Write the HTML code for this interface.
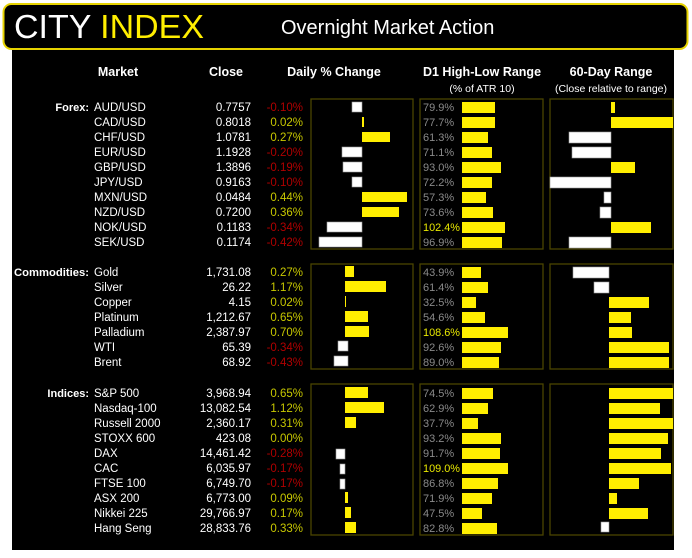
<!DOCTYPE html>
<html><head><meta charset="utf-8"><style>
html,body{margin:0;padding:0;background:#fff;width:692px;height:558px;overflow:hidden}
svg{display:block}
text{font-family:"Liberation Sans",sans-serif;font-size:11.5px;fill:#fff}
.r{text-anchor:end}
.lab{font-weight:bold;font-size:11px}
.hd{font-weight:bold;font-size:12.5px;text-anchor:middle}
.sub{font-size:10.5px;text-anchor:middle}
.g{fill:#c8c800}.n{fill:#b00000}.d{fill:#8a8a8a;font-size:11px}.y{fill:#e8e800;font-size:11px}
.box{fill:none;stroke:#4a4500;stroke-width:1.3}
.yb{fill:#ffee00}.wb{fill:#fff;stroke:#999;stroke-width:0.6}
</style></head><body>
<svg width="692" height="558" xmlns="http://www.w3.org/2000/svg">
<rect x="12" y="40" width="662" height="510" fill="#000"/>
<rect x="3.5" y="4" width="684" height="45" rx="8" fill="#000" stroke="#e6d300" stroke-width="2"/>
<text x="14" y="38" style="font-size:33px;fill:#fff" textLength="190" lengthAdjust="spacingAndGlyphs">CITY <tspan style="fill:#ffee00">INDEX</tspan></text>
<text x="281" y="34" style="font-size:20px">Overnight Market Action</text>
<text x="118" y="76" class="hd">Market</text>
<text x="226" y="76" class="hd">Close</text>
<text x="334" y="76" class="hd">Daily % Change</text>
<text x="482" y="76" class="hd">D1 High-Low Range</text>
<text x="611" y="76" class="hd">60-Day Range</text>
<text x="482" y="92" class="sub">(% of ATR 10)</text>
<text x="611" y="92" class="sub">(Close relative to range)</text>

<rect class="box" x="311" y="99" width="102" height="150"/>
<rect class="box" x="420" y="99" width="123" height="150"/>
<rect class="box" x="550" y="99" width="123" height="150"/>
<rect class="box" x="311" y="264" width="102" height="105"/>
<rect class="box" x="420" y="264" width="123" height="105"/>
<rect class="box" x="550" y="264" width="123" height="105"/>
<rect class="box" x="311" y="384" width="102" height="151"/>
<rect class="box" x="420" y="384" width="123" height="151"/>
<rect class="box" x="550" y="384" width="123" height="151"/>

<!-- Forex -->
<text x="89" y="111" class="r lab">Forex:</text>
<g>
<text x="94" y="111">AUD/USD</text><text x="251" y="111" class="r">0.7757</text><text x="303" y="111" class="r n">-0.10%</text>
<text x="94" y="126">CAD/USD</text><text x="251" y="126" class="r">0.8018</text><text x="303" y="126" class="r g">0.02%</text>
<text x="94" y="141">CHF/USD</text><text x="251" y="141" class="r">1.0781</text><text x="303" y="141" class="r g">0.27%</text>
<text x="94" y="156">EUR/USD</text><text x="251" y="156" class="r">1.1928</text><text x="303" y="156" class="r n">-0.20%</text>
<text x="94" y="171">GBP/USD</text><text x="251" y="171" class="r">1.3896</text><text x="303" y="171" class="r n">-0.19%</text>
<text x="94" y="186">JPY/USD</text><text x="251" y="186" class="r">0.9163</text><text x="303" y="186" class="r n">-0.10%</text>
<text x="94" y="201">MXN/USD</text><text x="251" y="201" class="r">0.0484</text><text x="303" y="201" class="r g">0.44%</text>
<text x="94" y="216">NZD/USD</text><text x="251" y="216" class="r">0.7200</text><text x="303" y="216" class="r g">0.36%</text>
<text x="94" y="231">NOK/USD</text><text x="251" y="231" class="r">0.1183</text><text x="303" y="231" class="r n">-0.34%</text>
<text x="94" y="246">SEK/USD</text><text x="251" y="246" class="r">0.1174</text><text x="303" y="246" class="r n">-0.42%</text>
</g>
<rect class="wb" x="352" y="102" width="10" height="10"/>
<rect class="yb" x="362" y="117" width="2" height="10"/>
<rect class="yb" x="362" y="132" width="28" height="10"/>
<rect class="wb" x="342" y="147" width="20" height="10"/>
<rect class="wb" x="343" y="162" width="19" height="10"/>
<rect class="wb" x="352" y="177" width="10" height="10"/>
<rect class="yb" x="362" y="192" width="45" height="10"/>
<rect class="yb" x="362" y="207" width="37" height="10"/>
<rect class="wb" x="327" y="222" width="35" height="10"/>
<rect class="wb" x="319" y="237" width="43" height="10"/>

<text x="423" y="111" class="d">79.9%</text><rect class="yb" x="462" y="102" width="33" height="11"/>
<text x="423" y="126" class="d">77.7%</text><rect class="yb" x="462" y="117" width="33" height="11"/>
<text x="423" y="141" class="d">61.3%</text><rect class="yb" x="462" y="132" width="26" height="11"/>
<text x="423" y="156" class="d">71.1%</text><rect class="yb" x="462" y="147" width="30" height="11"/>
<text x="423" y="171" class="d">93.0%</text><rect class="yb" x="462" y="162" width="39" height="11"/>
<text x="423" y="186" class="d">72.2%</text><rect class="yb" x="462" y="177" width="30" height="11"/>
<text x="423" y="201" class="d">57.3%</text><rect class="yb" x="462" y="192" width="24" height="11"/>
<text x="423" y="216" class="d">73.6%</text><rect class="yb" x="462" y="207" width="31" height="11"/>
<text x="423" y="231" class="y" textLength="37" lengthAdjust="spacingAndGlyphs">102.4%</text><rect class="yb" x="462" y="222" width="43" height="11"/>
<text x="423" y="246" class="d">96.9%</text><rect class="yb" x="462" y="237" width="40" height="11"/>

<rect class="yb" x="611" y="102" width="4" height="11"/>
<rect class="yb" x="611" y="117" width="62" height="11"/>
<rect class="wb" x="569" y="132" width="42" height="11"/>
<rect class="wb" x="572" y="147" width="39" height="11"/>
<rect class="yb" x="611" y="162" width="24" height="11"/>
<rect class="wb" x="550" y="177" width="61" height="11"/>
<rect class="wb" x="604" y="192" width="7" height="11"/>
<rect class="wb" x="600" y="207" width="11" height="11"/>
<rect class="yb" x="611" y="222" width="40" height="11"/>
<rect class="wb" x="569" y="237" width="42" height="11"/>

<!-- Commodities -->
<text x="89" y="276" class="r lab" textLength="75" lengthAdjust="spacingAndGlyphs">Commodities:</text>
<text x="94" y="276">Gold</text><text x="251" y="276" class="r">1,731.08</text><text x="303" y="276" class="r g">0.27%</text>
<text x="94" y="291">Silver</text><text x="251" y="291" class="r">26.22</text><text x="303" y="291" class="r g">1.17%</text>
<text x="94" y="306">Copper</text><text x="251" y="306" class="r">4.15</text><text x="303" y="306" class="r g">0.02%</text>
<text x="94" y="321">Platinum</text><text x="251" y="321" class="r">1,212.67</text><text x="303" y="321" class="r g">0.65%</text>
<text x="94" y="336">Palladium</text><text x="251" y="336" class="r">2,387.97</text><text x="303" y="336" class="r g">0.70%</text>
<text x="94" y="351">WTI</text><text x="251" y="351" class="r">65.39</text><text x="303" y="351" class="r n">-0.34%</text>
<text x="94" y="366">Brent</text><text x="251" y="366" class="r">68.92</text><text x="303" y="366" class="r n">-0.43%</text>

<rect class="yb" x="345" y="266" width="9" height="11"/>
<rect class="yb" x="345" y="281" width="41" height="11"/>
<rect class="yb" x="345" y="296" width="1" height="11"/>
<rect class="yb" x="345" y="311" width="23" height="11"/>
<rect class="yb" x="345" y="326" width="24" height="11"/>
<rect class="wb" x="338" y="341" width="10" height="10"/>
<rect class="wb" x="334" y="356" width="14" height="10"/>

<text x="423" y="276" class="d">43.9%</text><rect class="yb" x="462" y="267" width="19" height="11"/>
<text x="423" y="291" class="d">61.4%</text><rect class="yb" x="462" y="282" width="26" height="11"/>
<text x="423" y="306" class="d">32.5%</text><rect class="yb" x="462" y="297" width="14" height="11"/>
<text x="423" y="321" class="d">54.6%</text><rect class="yb" x="462" y="312" width="23" height="11"/>
<text x="423" y="336" class="y" textLength="37" lengthAdjust="spacingAndGlyphs">108.6%</text><rect class="yb" x="462" y="327" width="46" height="11"/>
<text x="423" y="351" class="d">92.6%</text><rect class="yb" x="462" y="342" width="39" height="11"/>
<text x="423" y="366" class="d">89.0%</text><rect class="yb" x="462" y="357" width="37" height="11"/>

<rect class="wb" x="573" y="267" width="36" height="11"/>
<rect class="wb" x="594" y="282" width="15" height="11"/>
<rect class="yb" x="609" y="297" width="40" height="11"/>
<rect class="yb" x="609" y="312" width="22" height="11"/>
<rect class="yb" x="609" y="327" width="23" height="11"/>
<rect class="yb" x="609" y="342" width="60" height="11"/>
<rect class="yb" x="609" y="357" width="60" height="11"/>

<!-- Indices -->
<text x="89" y="397" class="r lab">Indices:</text>
<text x="94" y="397">S&amp;P 500</text><text x="251" y="397" class="r">3,968.94</text><text x="303" y="397" class="r g">0.65%</text>
<text x="94" y="412">Nasdaq-100</text><text x="251" y="412" class="r">13,082.54</text><text x="303" y="412" class="r g">1.12%</text>
<text x="94" y="427">Russell 2000</text><text x="251" y="427" class="r">2,360.17</text><text x="303" y="427" class="r g">0.31%</text>
<text x="94" y="442">STOXX 600</text><text x="251" y="442" class="r">423.08</text><text x="303" y="442" class="r g">0.00%</text>
<text x="94" y="457">DAX</text><text x="251" y="457" class="r">14,461.42</text><text x="303" y="457" class="r n">-0.28%</text>
<text x="94" y="472">CAC</text><text x="251" y="472" class="r">6,035.97</text><text x="303" y="472" class="r n">-0.17%</text>
<text x="94" y="487">FTSE 100</text><text x="251" y="487" class="r">6,749.70</text><text x="303" y="487" class="r n">-0.17%</text>
<text x="94" y="502">ASX 200</text><text x="251" y="502" class="r">6,773.00</text><text x="303" y="502" class="r g">0.09%</text>
<text x="94" y="517">Nikkei 225</text><text x="251" y="517" class="r">29,766.97</text><text x="303" y="517" class="r g">0.17%</text>
<text x="94" y="532">Hang Seng</text><text x="251" y="532" class="r">28,833.76</text><text x="303" y="532" class="r g">0.33%</text>

<rect class="yb" x="345" y="387" width="23" height="11"/>
<rect class="yb" x="345" y="402" width="39" height="11"/>
<rect class="yb" x="345" y="417" width="11" height="11"/>
<rect class="wb" x="336" y="449" width="9" height="10"/>
<rect class="wb" x="340" y="464" width="5" height="10"/>
<rect class="wb" x="340" y="479" width="5" height="10"/>
<rect class="yb" x="345" y="492" width="3" height="11"/>
<rect class="yb" x="345" y="507" width="6" height="11"/>
<rect class="yb" x="345" y="522" width="11" height="11"/>

<text x="423" y="397" class="d">74.5%</text><rect class="yb" x="462" y="388" width="31" height="11"/>
<text x="423" y="412" class="d">62.9%</text><rect class="yb" x="462" y="403" width="26" height="11"/>
<text x="423" y="427" class="d">37.7%</text><rect class="yb" x="462" y="418" width="16" height="11"/>
<text x="423" y="442" class="d">93.2%</text><rect class="yb" x="462" y="433" width="39" height="11"/>
<text x="423" y="457" class="d">91.7%</text><rect class="yb" x="462" y="448" width="38" height="11"/>
<text x="423" y="472" class="y" textLength="37" lengthAdjust="spacingAndGlyphs">109.0%</text><rect class="yb" x="462" y="463" width="46" height="11"/>
<text x="423" y="487" class="d">86.8%</text><rect class="yb" x="462" y="478" width="36" height="11"/>
<text x="423" y="502" class="d">71.9%</text><rect class="yb" x="462" y="493" width="30" height="11"/>
<text x="423" y="517" class="d">47.5%</text><rect class="yb" x="462" y="508" width="20" height="11"/>
<text x="423" y="532" class="d">82.8%</text><rect class="yb" x="462" y="523" width="35" height="11"/>

<rect class="yb" x="609" y="388" width="64" height="11"/>
<rect class="yb" x="609" y="403" width="51" height="11"/>
<rect class="yb" x="609" y="418" width="64" height="11"/>
<rect class="yb" x="609" y="433" width="59" height="11"/>
<rect class="yb" x="609" y="448" width="52" height="11"/>
<rect class="yb" x="609" y="463" width="62" height="11"/>
<rect class="yb" x="609" y="478" width="30" height="11"/>
<rect class="yb" x="609" y="493" width="8" height="11"/>
<rect class="yb" x="609" y="508" width="39" height="11"/>
<rect class="wb" x="601" y="522" width="8" height="10"/>
</svg>
</body></html>
